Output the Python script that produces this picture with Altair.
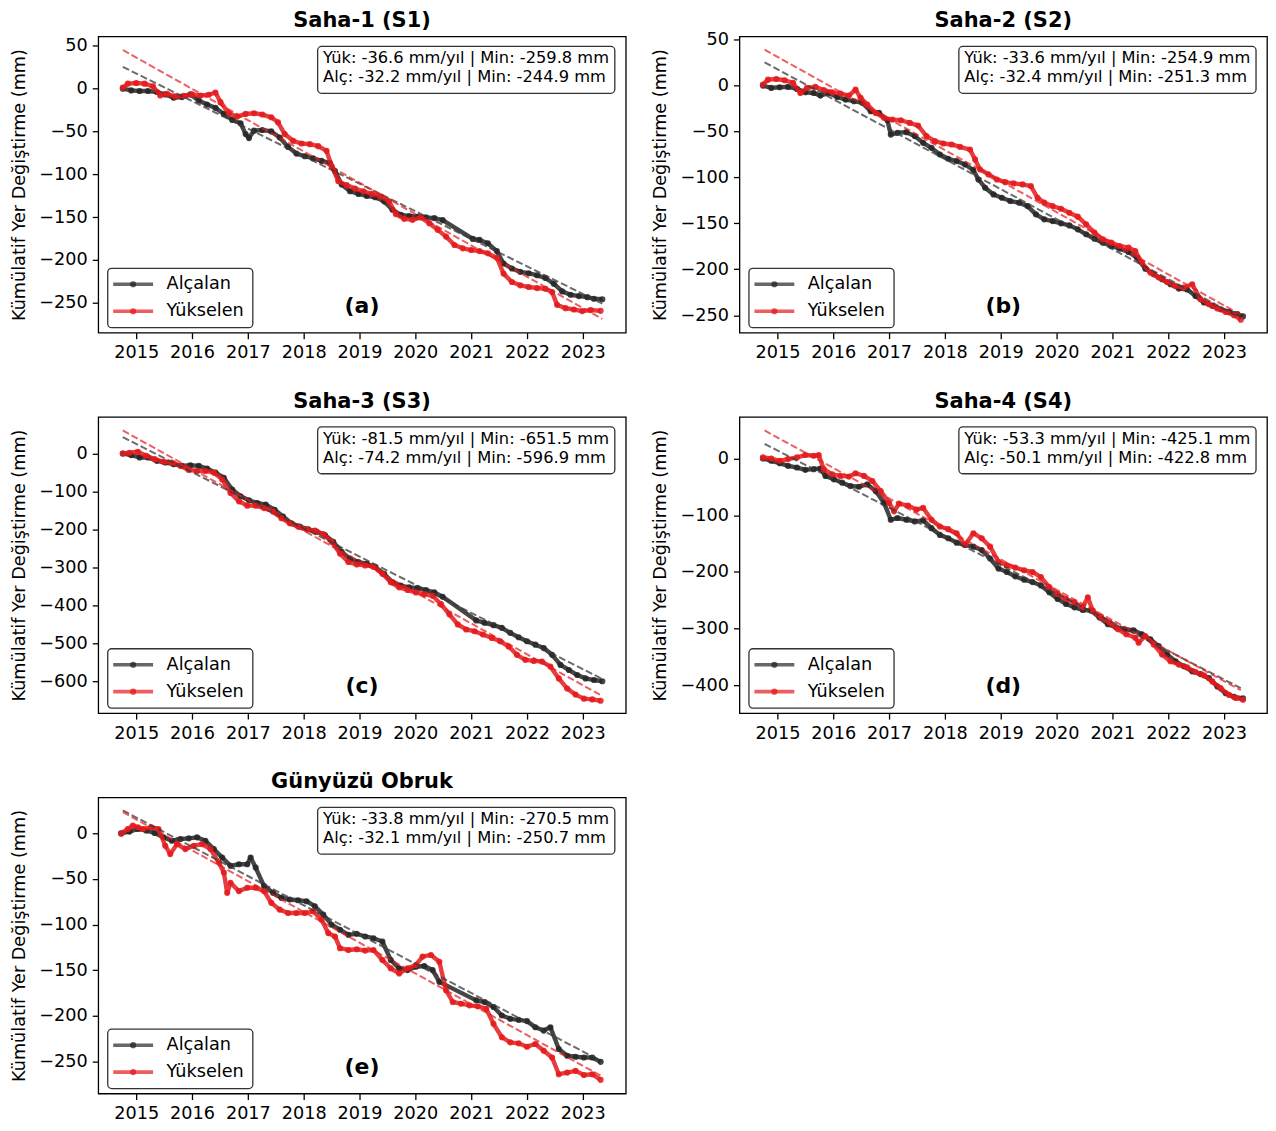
import altair as alt
import pandas as pd

# ---------------- data ----------------
YEARS = [2015, 2016, 2017, 2018, 2019, 2020, 2021, 2022, 2023]
X_DOMAIN = [2014.32, 2023.77]

TITLES = ["Saha-1 (S1)", "Saha-2 (S2)", "Saha-3 (S3)", "Saha-4 (S4)", "Günyüzü Obruk"]
LETTERS = ["(a)", "(b)", "(c)", "(d)", "(e)"]
SERIES_NAMES = ["Alçalan", "Yükselen"]
STAT_YUK = ["Yük: -36.6 mm/yıl | Min: -259.8 mm", "Yük: -33.6 mm/yıl | Min: -254.9 mm",
            "Yük: -81.5 mm/yıl | Min: -651.5 mm", "Yük: -53.3 mm/yıl | Min: -425.1 mm",
            "Yük: -33.8 mm/yıl | Min: -270.5 mm"]
STAT_ALC = ["Alç: -32.2 mm/yıl | Min: -244.9 mm", "Alç: -32.4 mm/yıl | Min: -251.3 mm",
            "Alç: -74.2 mm/yıl | Min: -596.9 mm", "Alç: -50.1 mm/yıl | Min: -422.8 mm",
            "Alç: -32.1 mm/yıl | Min: -250.7 mm"]
Y_DOMAINS = [[-285, 61], [-269, 53.5], [-684, 96.5], [-448.7, 73.3], [-285.5, 39.6]]
Y_TICKS = [[-250, -200, -150, -100, -50, 0, 50], [-250, -200, -150, -100, -50, 0, 50],
           [-600, -500, -400, -300, -200, -100, 0], [-400, -300, -200, -100, 0],
           [-250, -200, -150, -100, -50, 0]]

# trend lines: start / end (year, mm)
TREND_T = [[2014.76, 2023.35], [2014.77, 2023.30], [2014.76, 2023.35], [2014.77, 2023.30], [2014.76, 2023.35]]
TREND_ALC_V = [[25.5, -251.0], [25.3, -253.0], [43.0, -594.0], [25.7, -404.7], [25.2, -250.5]]
TREND_YUK_V = [[45.2, -269.0], [39.1, -249.5], [60.8, -639.0], [49.4, -408.4], [23.4, -266.9]]

# ---- Saha-1 ----
S1_ALC_T = [2014.76, 2014.91, 2015.06, 2015.21, 2015.37, 2015.52, 2015.67, 2015.82, 2015.97, 2016.12,
            2016.27, 2016.42, 2016.57, 2016.72, 2016.87, 2016.96, 2017.02, 2017.11, 2017.26, 2017.42,
            2017.57, 2017.72, 2017.87, 2018.02, 2018.17, 2018.32, 2018.47, 2018.56, 2018.68, 2018.83,
            2018.98, 2019.13, 2019.28, 2019.44, 2019.59, 2019.74, 2019.89, 2020.04, 2020.19, 2020.34,
            2020.49, 2021.03, 2021.15, 2021.30, 2021.46, 2021.58, 2021.73, 2021.88, 2022.03, 2022.18,
            2022.33, 2022.48, 2022.63, 2022.78, 2022.93, 2023.08, 2023.20, 2023.35]
S1_ALC_V = [0, -2, -2.7, -2.7, -3.9, -6.7, -10.6, -9.8, -6.7, -13.7,
            -18.5, -22.4, -29.5, -36.5, -40.4, -53, -57.7, -49, -48.3, -49.9,
            -57, -68, -75.8, -78.9, -81.3, -84.4, -86.8, -96.2, -111.9, -119.8,
            -122.9, -125.3, -126.8, -131.6, -141.4, -147.3, -148.8, -149.6, -150.4, -151.2,
            -153.5, -175.5, -176.7, -180.6, -189.7, -204.2, -210.1, -214, -215.6, -218,
            -221.1, -227.8, -236.8, -240.7, -242.3, -243.5, -245.4, -246]
S1_YUK_T = [2014.76, 2014.85, 2015.00, 2015.15, 2015.30, 2015.43, 2015.55, 2015.70, 2015.85, 2016.00,
            2016.15, 2016.30, 2016.42, 2016.51, 2016.66, 2016.81, 2016.96, 2017.11, 2017.26, 2017.42,
            2017.54, 2017.66, 2017.81, 2017.96, 2018.11, 2018.26, 2018.41, 2018.50, 2018.62, 2018.77,
            2018.92, 2019.07, 2019.22, 2019.38, 2019.53, 2019.65, 2019.80, 2019.95, 2020.10, 2020.25,
            2020.40, 2020.55, 2020.70, 2020.85, 2021.00, 2021.15, 2021.30, 2021.46, 2021.58, 2021.73,
            2021.88, 2022.03, 2022.18, 2022.33, 2022.45, 2022.54, 2022.69, 2022.84, 2022.99, 2023.14,
            2023.32]
S1_YUK_V = [1.2, 5.9, 6.7, 5.9, 2.8, -7.9, -5.9, -9, -8.2, -6.7,
            -7.9, -7.1, -4.5, -15.7, -28.7, -32.6, -29.5, -28.7, -30.2, -33.4,
            -39.3, -53, -60.9, -64, -64.8, -67.1, -72.6, -90.3, -108, -112.7,
            -116.6, -119.8, -122.9, -125.7, -131.6, -146.5, -152, -153.2, -150.4, -157.1,
            -164.9, -172.8, -182.6, -186.5, -188.5, -189.7, -192.4, -197.5, -216, -225.8,
            -229.7, -231.7, -232.9, -233.7, -237.6, -252.5, -256.4, -258, -259.8, -258.6,
            -259.5]

# ---- Saha-2 ----
S2_ALC_T = [2014.74, 2014.89, 2015.04, 2015.19, 2015.35, 2015.50, 2015.65, 2015.77, 2015.92, 2016.07,
            2016.22, 2016.37, 2016.52, 2016.67, 2016.82, 2016.97, 2017.03, 2017.15, 2017.31, 2017.46,
            2017.61, 2017.76, 2017.91, 2018.06, 2018.21, 2018.36, 2018.51, 2018.60, 2018.72, 2018.87,
            2019.02, 2019.17, 2019.33, 2019.48, 2019.63, 2019.78, 2019.93, 2020.08, 2020.23, 2020.38,
            2020.53, 2020.68, 2020.83, 2020.98, 2021.13, 2021.29, 2021.44, 2021.59, 2021.74, 2021.89,
            2022.04, 2022.19, 2022.34, 2022.49, 2022.64, 2022.79, 2022.94, 2023.09, 2023.24, 2023.34]
S2_ALC_V = [0, -2.5, -1.8, -1.4, -3.6, -7.2, -8, -10.9, -8, -12.3,
            -15.2, -17, -18.8, -27.9, -29.7, -37.7, -53.3, -51.4, -50.7, -55,
            -62.3, -67.8, -75, -79.7, -82.2, -85.9, -92, -102.2, -111.2, -118.5,
            -122.1, -125.7, -127.5, -131.2, -140.2, -145.6, -147.5, -150, -152.2, -156.5,
            -161.9, -166.7, -171, -174.6, -177.5, -181.2, -187.3, -199.3, -205.4, -210.9,
            -216.3, -221, -222, -229, -236.2, -239.8, -243.5, -246.4, -248.9, -251.3]
S2_YUK_T = [2014.74, 2014.83, 2014.98, 2015.13, 2015.28, 2015.41, 2015.53, 2015.68, 2015.83, 2015.98,
            2016.13, 2016.28, 2016.40, 2016.49, 2016.61, 2016.76, 2016.91, 2017.06, 2017.21, 2017.37,
            2017.52, 2017.67, 2017.82, 2017.97, 2018.12, 2018.27, 2018.45, 2018.54, 2018.63, 2018.78,
            2018.93, 2019.08, 2019.23, 2019.39, 2019.54, 2019.66, 2019.78, 2019.93, 2020.08, 2020.23,
            2020.38, 2020.53, 2020.68, 2020.83, 2020.98, 2021.13, 2021.29, 2021.41, 2021.53, 2021.68,
            2021.83, 2021.98, 2022.13, 2022.28, 2022.43, 2022.58, 2022.73, 2022.88, 2023.03, 2023.18,
            2023.30]
S2_YUK_V = [1.1, 6.5, 7.2, 5.8, 2.9, -8, -2.5, -1.4, -5, -7.2,
            -8.7, -10.9, -4.3, -13.4, -20.7, -29.7, -35.1, -37, -37.7, -40.6,
            -43.5, -55, -60.5, -63, -64.1, -66.7, -69.6, -80.4, -91.3, -96.7,
            -102.2, -105.1, -106.5, -107.6, -109.4, -122.1, -127.5, -131.2, -134.1, -138.4,
            -142.7, -151.1, -160.1, -167.4, -171, -174.6, -176.4, -180.1, -192.7, -203.6,
            -209, -213.8, -218.1, -219.9, -216.3, -232.6, -238, -242.7, -246.4, -250,
            -254.9]

# ---- Saha-3 ----
S3_ALC_T = [2014.76, 2014.91, 2015.06, 2015.21, 2015.37, 2015.52, 2015.67, 2015.82, 2015.97, 2016.12,
            2016.27, 2016.42, 2016.57, 2016.72, 2016.87, 2017.02, 2017.17, 2017.32, 2017.48, 2017.63,
            2017.78, 2017.93, 2018.08, 2018.23, 2018.38, 2018.53, 2018.68, 2018.83, 2018.98, 2019.13,
            2019.28, 2019.44, 2019.59, 2019.74, 2019.89, 2020.04, 2020.19, 2020.34, 2020.49, 2021.09,
            2021.24, 2021.40, 2021.55, 2021.70, 2021.85, 2022.00, 2022.15, 2022.30, 2022.45, 2022.60,
            2022.75, 2022.90, 2023.05, 2023.20, 2023.35]
S3_ALC_V = [0, -4, -10.3, -10.3, -19.2, -23.6, -28.1, -32.5, -30.8, -32.5,
            -39.6, -50.3, -63.7, -94.8, -112.5, -123.2, -130.3, -134.8, -148.1, -165.9,
            -183.7, -192.6, -199.7, -205.9, -214.8, -232.6, -259.2, -277, -285.9, -290.4,
            -299.3, -317, -339.2, -348.1, -352.6, -354.4, -359.7, -365.9, -377.5, -439.7,
            -446, -452.2, -459.3, -472.6, -484.2, -494.8, -503.7, -512.6, -530.4, -557,
            -570.4, -583.7, -592.6, -596.9, -600]
S3_YUK_T = [2014.76, 2014.88, 2015.03, 2015.18, 2015.33, 2015.49, 2015.64, 2015.79, 2015.94, 2016.09,
            2016.24, 2016.39, 2016.54, 2016.69, 2016.84, 2016.99, 2017.14, 2017.29, 2017.45, 2017.60,
            2017.75, 2017.90, 2018.05, 2018.20, 2018.35, 2018.50, 2018.65, 2018.80, 2018.95, 2019.10,
            2019.25, 2019.41, 2019.56, 2019.71, 2019.86, 2020.01, 2020.16, 2020.31, 2020.46, 2020.61,
            2020.76, 2020.91, 2021.06, 2021.21, 2021.37, 2021.52, 2021.67, 2021.82, 2021.97, 2022.12,
            2022.27, 2022.42, 2022.57, 2022.72, 2022.87, 2023.02, 2023.17, 2023.32]
S3_YUK_V = [0, 2, 4.8, -5.9, -14.8, -21.9, -23.6, -32.5, -43.2, -45.9,
            -45.9, -50.3, -68.1, -103.7, -125.9, -137.4, -137.4, -143.7, -152.6, -170.3,
            -183.7, -192.6, -199.7, -203.2, -212.1, -232.6, -263.7, -285.9, -292.1, -294.8,
            -297.5, -317, -339.2, -352.6, -359.7, -365.9, -370.4, -374.8, -397, -423.7,
            -450.4, -463.7, -468.2, -477, -485.9, -494.8, -508.2, -530.4, -543.7, -546.4,
            -548.2, -561.5, -592.6, -619.3, -635.3, -645.9, -648, -651.5]

# ---- Saha-4 ----
S4_ALC_T = [2014.74, 2014.89, 2015.04, 2015.19, 2015.35, 2015.50, 2015.65, 2015.77, 2015.86, 2016.01,
            2016.16, 2016.31, 2016.46, 2016.61, 2016.76, 2016.91, 2017.03, 2017.15, 2017.31, 2017.46,
            2017.61, 2017.76, 2017.91, 2018.06, 2018.21, 2018.36, 2018.51, 2018.66, 2018.81, 2018.96,
            2019.11, 2019.26, 2019.42, 2019.57, 2019.72, 2019.87, 2020.02, 2020.17, 2020.32, 2020.47,
            2020.62, 2020.77, 2020.92, 2021.07, 2021.22, 2021.38, 2021.53, 2021.68, 2021.83, 2021.98,
            2022.13, 2022.28, 2022.43, 2022.58, 2022.73, 2022.88, 2023.03, 2023.18, 2023.34]
S4_ALC_V = [0, -4, -8.2, -12.9, -15.9, -20, -18.8, -17.7, -30.7, -36.7,
            -42.6, -48.5, -49.7, -45.6, -57.4, -78.2, -107.9, -104.9, -107.9, -110.9,
            -109.1, -122.8, -134.6, -140.6, -148.3, -152.5, -155.4, -161.4, -176.2, -194,
            -200, -207.7, -213.6, -217.8, -223.7, -235.6, -247.5, -256.4, -262.3, -267,
            -268.2, -280.1, -292, -297.9, -300.9, -302.7, -309.8, -318.7, -330.6, -345.4,
            -357.3, -366.2, -375.1, -379.9, -387, -401.8, -413.7, -420, -422.8]
S4_YUK_T = [2014.74, 2014.89, 2015.04, 2015.19, 2015.35, 2015.50, 2015.65, 2015.74, 2015.83, 2015.98,
            2016.13, 2016.28, 2016.40, 2016.55, 2016.70, 2016.85, 2017.00, 2017.09, 2017.18, 2017.34,
            2017.49, 2017.61, 2017.76, 2017.91, 2018.06, 2018.21, 2018.36, 2018.51, 2018.66, 2018.81,
            2018.96, 2019.11, 2019.26, 2019.42, 2019.57, 2019.72, 2019.87, 2020.02, 2020.17, 2020.32,
            2020.47, 2020.56, 2020.65, 2020.80, 2020.95, 2021.10, 2021.25, 2021.41, 2021.47, 2021.59,
            2021.74, 2021.89, 2022.04, 2022.19, 2022.34, 2022.49, 2022.64, 2022.79, 2022.94, 2023.09,
            2023.21, 2023.34]
S4_YUK_V = [1.9, 0, -4, -1, 1.9, 6.1, 4.9, 6.1, -18.8, -27.8,
            -30.7, -31.9, -26, -30.7, -39.6, -57.4, -78.2, -93.1, -79.4, -83,
            -90.1, -87.1, -107.9, -119.8, -124.5, -131.7, -152.5, -131.7, -140.6, -155.4,
            -182.1, -188.1, -192.2, -197, -200, -208.9, -226.7, -238.6, -247.5, -253.4,
            -262.3, -244.5, -268.2, -280.1, -289, -300.9, -309.8, -315.8, -324.6, -312.8,
            -327.6, -345.4, -357.3, -363.2, -368, -376.3, -382.3, -392.9, -404.8, -416.7,
            -422, -425.1]

# ---- Günyüzü Obruk ----
S5_ALC_T = [2014.73, 2014.88, 2015.03, 2015.18, 2015.33, 2015.49, 2015.64, 2015.79, 2015.94, 2016.09,
            2016.24, 2016.39, 2016.54, 2016.69, 2016.84, 2016.99, 2017.05, 2017.14, 2017.29, 2017.45,
            2017.60, 2017.75, 2017.90, 2018.05, 2018.20, 2018.35, 2018.50, 2018.65, 2018.80, 2018.95,
            2019.10, 2019.25, 2019.41, 2019.56, 2019.71, 2019.86, 2020.01, 2020.16, 2020.31, 2020.43,
            2021.09, 2021.24, 2021.40, 2021.55, 2021.70, 2021.85, 2022.00, 2022.15, 2022.30, 2022.42,
            2022.57, 2022.72, 2022.87, 2023.02, 2023.17, 2023.32]
S5_ALC_V = [0, 2, 4.9, 3.1, 0.5, -4.3, -8, -6.1, -5.4, -4.3,
            -8, -17.2, -26.4, -35.6, -33.8, -33.8, -26.4, -37.5, -57.8, -65.2,
            -70.7, -72.5, -73.3, -74.4, -79.9, -89.1, -100.2, -105.7, -111.3, -110.1,
            -113.1, -115, -118.6, -138.9, -148.1, -150, -146.3, -145.5, -150, -162.9,
            -183.2, -185, -190.5, -199.8, -203.5, -204.6, -206, -212.7, -216.4, -212.7,
            -236.6, -244, -245.1, -245.9, -245.9, -250.7]
S5_YUK_T = [2014.73, 2014.85, 2014.94, 2015.03, 2015.12, 2015.27, 2015.40, 2015.52, 2015.61, 2015.73,
            2015.88, 2016.03, 2016.18, 2016.33, 2016.48, 2016.57, 2016.63, 2016.69, 2016.84, 2016.99,
            2017.14, 2017.29, 2017.42, 2017.57, 2017.72, 2017.87, 2018.02, 2018.17, 2018.32, 2018.44,
            2018.56, 2018.65, 2018.80, 2018.95, 2019.10, 2019.25, 2019.41, 2019.56, 2019.71, 2019.86,
            2020.01, 2020.13, 2020.28, 2020.43, 2020.55, 2020.67, 2020.82, 2020.97, 2021.12, 2021.27,
            2021.40, 2021.55, 2021.70, 2021.85, 2022.00, 2022.15, 2022.30, 2022.45, 2022.57, 2022.72,
            2022.87, 2023.02, 2023.17, 2023.32]
S5_YUK_V = [0, 4.9, 8.6, 6.8, 4.9, 6.8, 4.9, -13.5, -22.7, -11.7,
            -17.2, -13.5, -11.7, -17.2, -32, -43, -65.2, -54.1, -63.3, -59.6,
            -59.6, -63.3, -76.2, -83.6, -87.3, -87.3, -87.3, -85.4, -94.7, -109.4,
            -113.1, -126, -127.9, -127.1, -128.6, -127.9, -138.9, -148.1, -153.7, -148.1,
            -144.4, -135.2, -133.4, -140.8, -172.1, -185, -186.9, -188.7, -189.8, -192.4,
            -209, -223.7, -229.3, -230.4, -234.1, -231.1, -238.5, -245.9, -264.3, -262.5,
            -260.6, -265.1, -264.3, -270.5]

ALC_T = [S1_ALC_T, S2_ALC_T, S3_ALC_T, S4_ALC_T, S5_ALC_T]
ALC_V = [S1_ALC_V, S2_ALC_V, S3_ALC_V, S4_ALC_V, S5_ALC_V]
YUK_T = [S1_YUK_T, S2_YUK_T, S3_YUK_T, S4_YUK_T, S5_YUK_T]
YUK_V = [S1_YUK_V, S2_YUK_V, S3_YUK_V, S4_YUK_V, S5_YUK_V]

# ---------------- styling ----------------
W, H = 529, 297
FONT = "DejaVu Sans"
BLACK = "#262626"
RED = "#e41a1c"
YLABEL = "Kümülatif Yer Değiştirme (mm)"
ONE = pd.DataFrame({"k": [0]})
# title offsets: panel b's top tick label pokes above the frame, so its title sits closer
TITLE_OFFSETS = [5, 0, 5, 5, 5]
TITLE_DY = [0, 0.7, 0, 0, 0]


def panel(i):
    xenc = alt.X("t:Q", scale=alt.Scale(domain=X_DOMAIN, nice=False, zero=False),
                 axis=alt.Axis(values=YEARS, format="d", title=None))
    yenc = alt.Y("v:Q", scale=alt.Scale(domain=Y_DOMAINS[i], nice=False, zero=False),
                 axis=alt.Axis(values=Y_TICKS[i], title=YLABEL))
    d_alc = pd.DataFrame({"t": ALC_T[i], "v": ALC_V[i]})
    d_yuk = pd.DataFrame({"t": YUK_T[i], "v": YUK_V[i]})
    tr_alc = pd.DataFrame({"t": TREND_T[i], "v": TREND_ALC_V[i]})
    tr_yuk = pd.DataFrame({"t": TREND_T[i], "v": TREND_YUK_V[i]})

    layers = []
    for df, col in ((d_alc, BLACK), (d_yuk, RED)):
        base = alt.Chart(df).encode(x=xenc, y=yenc)
        layers.append(base.mark_line(color=col, strokeWidth=4.4, opacity=0.85, strokeJoin="round"))
        layers.append(base.mark_circle(color=col, size=38, opacity=0.85))
    layers.append(alt.Chart(tr_alc).mark_line(color="#3a3a3a", strokeDash=[7, 3], strokeWidth=2,
                                              opacity=0.75).encode(x=xenc, y=yenc))
    layers.append(alt.Chart(tr_yuk).mark_line(color=RED, strokeDash=[7, 3], strokeWidth=2,
                                              opacity=0.7).encode(x=xenc, y=yenc))

    one = alt.Chart(ONE)
    # stats box (top right)
    layers.append(one.mark_rect(fill="white", fillOpacity=0.85, stroke="#333333", strokeWidth=1.3,
                                cornerRadius=4).encode(x=alt.value(220), x2=alt.value(518),
                                                       y=alt.value(10), y2=alt.value(57)))
    layers.append(one.mark_text(align="left", baseline="middle", font=FONT, fontSize=16.3, color="black")
                  .encode(x=alt.value(225.5), y=alt.value(22), text=alt.value(STAT_YUK[i])))
    layers.append(one.mark_text(align="left", baseline="middle", font=FONT, fontSize=16.3, color="black")
                  .encode(x=alt.value(225.5), y=alt.value(41), text=alt.value(STAT_ALC[i])))
    # legend box (bottom left)
    layers.append(one.mark_rect(fill="white", fillOpacity=0.85, stroke="#333333", strokeWidth=1.3,
                                cornerRadius=4).encode(x=alt.value(9.5), x2=alt.value(155),
                                                       y=alt.value(232.5), y2=alt.value(292)))
    for k, (col, yy) in enumerate(((BLACK, 248.5), (RED, 275.5))):
        layers.append(one.mark_rule(color=col, strokeWidth=3.6, opacity=0.7)
                      .encode(x=alt.value(15), x2=alt.value(55), y=alt.value(yy)))
        layers.append(one.mark_circle(color=col, size=38, opacity=0.75)
                      .encode(x=alt.value(35), y=alt.value(yy)))
        layers.append(one.mark_text(align="left", baseline="middle", font=FONT, fontSize=17.7,
                                    color="black")
                      .encode(x=alt.value(68.5), y=alt.value(yy), text=alt.value(SERIES_NAMES[k])))
    # panel letter
    layers.append(one.mark_text(align="center", baseline="middle", font=FONT, fontSize=22,
                                fontWeight="bold", color="black")
                  .encode(x=alt.value(W / 2), y=alt.value(270), text=alt.value(LETTERS[i])))

    return alt.layer(*layers).properties(
        width=W, height=H,
        title=alt.TitleParams(TITLES[i], offset=TITLE_OFFSETS[i], dy=TITLE_DY[i]))


panels = [panel(i) for i in range(5)]

chart = alt.concat(*panels, columns=2, spacing=alt.RowColnumber(row=84.5, column=114),
                   bounds="flush").properties(
    padding={"left": 1.5, "top": 0, "right": 0, "bottom": 0}
).configure_view(
    stroke="black", strokeWidth=1.3
).configure_axis(
    labelFont=FONT, labelFontSize=17.7, labelColor="black", tickColor="black", tickWidth=1.3,
    tickSize=6, labelPadding=5, domain=False, grid=False, titleFont=FONT, titleFontSize=17.7,
    titleFontWeight="normal", titleColor="black", titlePadding=10.5
).configure_title(
    font=FONT, fontSize=21, fontWeight="bold", color="black", anchor="middle"
)

chart.save("out.html", embed_options={"renderer": "svg", "actions": False})
